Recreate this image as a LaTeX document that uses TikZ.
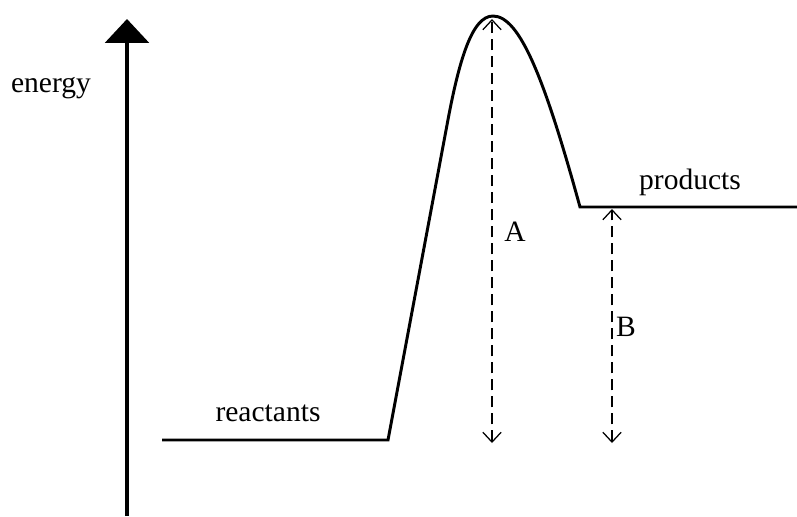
\documentclass[tikz,border=0pt]{standalone}
\usepackage{fontspec}
\setmainfont{Liberation Serif}
\usepackage{tikz}
\usetikzlibrary{arrows.meta,positioning,calc}
\definecolor{ink}{HTML}{000000}
\tikzset{
  every node/.style={font=\fontsize{21}{24}\selectfont,text=ink,inner sep=0pt},
  axisline/.style={line width=2.8pt,draw=ink,-{Triangle[length=17pt,width=31pt]}},
  curveline/.style={line width=2.1pt,draw=ink,line join=miter},
  gap/.style={line width=0.9pt,draw=ink,dash pattern=on 7.8pt off 4.3pt,
    {Straight Barb[length=7pt,width=13pt,line width=0.9pt]}-{Straight Barb[length=7pt,width=13pt,line width=0.9pt]}},
  lbl/.style={anchor=center}
}

\begin{document}
\begin{tikzpicture}[x=0.025cm,y=-0.025cm]
  \useasboundingbox (0,0) rectangle (797,516);
  % axis
  \coordinate (axbot) at (127,516);
  \coordinate (axtop) at (127,19);
  \draw[axisline] (axbot)--(axtop);
  \node[lbl] (energy) at (51,88) {energy};

  % profile
  \coordinate (rstart) at (162,440);
  \coordinate (rend) at (388,440);
  \coordinate (rise) at (447,125);
  \coordinate (peak) at (493,16);
  \coordinate (pstart) at (580,207);
  \coordinate (pend) at (797,207);
  \draw[curveline] (rstart)--(rend)--(rise)
    .. controls (459,60) and (472,16) .. (peak)
    .. controls (520,16) and (545,80) .. (pstart)--(pend);
  \node[lbl] (reactants) at (268,413) {reactants};
  \node[lbl] (products) at (690,182) {products};

  % A and B
  \coordinate (atop) at (492,19);
  \coordinate (abot) at (492,443);
  \coordinate (btop) at (612,209);
  \coordinate (bbot) at (612,443);
  \draw[gap] (abot)--(atop);
  \draw[gap] (bbot)--(btop);
  \node[lbl] (A) at (515,232) {A};
  \node[lbl] (B) at (626,327) {B};
\end{tikzpicture}
\end{document}
